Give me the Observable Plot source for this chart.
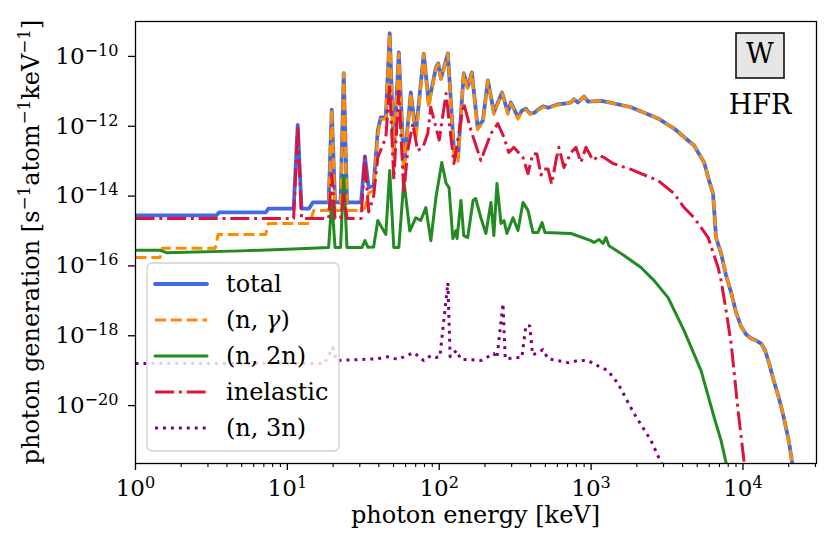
<!DOCTYPE html>
<html><head><meta charset="utf-8">
<script src="https://cdn.jsdelivr.net/npm/d3@7"></script>
<script src="https://cdn.jsdelivr.net/npm/@observablehq/plot@0.6"></script>
<style>body{margin:0;background:#fff}#chart{width:831px;height:549px}</style>
</head><body><div id="chart"></div>
<script>
// photon energy [keV], photon generation [s^-1 atom^-1 keV^-1]
const total = [[1,2.8e-15],[3.4,2.8e-15],[3.55,3.4e-15],[7.2,3.4e-15],[7.5,4.4e-15],[11.0,4.4e-15],[11.7,1.1e-12],[12.4,4.4e-15],[13.9,4.4e-15],[14.7,6.6e-15],[18.7,6.6e-15],[19.6,3.0e-12],[20.6,6.6e-15],[22.4,6.6e-15],[23.5,3.3e-11],[24.7,6.6e-15],[30.6,6.6e-15],[32.4,1.36e-13],[34.3,1.8e-14],[37.0,2.0e-14],[39.4,7.5e-13],[41.2,1.8e-12],[44.5,1.8e-12],[47.2,4.6e-10],[50.2,1.65e-13],[54.2,1.3e-10],[58.5,6.5e-14],[65,9.3e-12],[70.1,6e-13],[79.1,1.2e-10],[85.3,4.5e-12],[95.1,4.8e-11],[98.5,6.3e-11],[102.6,2.34e-11],[114,1.22e-10],[125,2e-13],[133,1.28e-13],[145,3.3e-11],[154,1.3e-11],[164,3.5e-11],[179,9.2e-13],[194,1.47e-12],[209,2.05e-11],[229,2.5e-12],[259,9.3e-12],[283,2.5e-12],[296,4.8e-12],[310,3.2e-12],[330,1.8e-12],[350,2.8e-12],[372,3.2e-12],[395,2.3e-12],[421,2.4e-12],[450,3.0e-12],[482,3.7e-12],[520,3.4e-12],[600,4.2e-12],[704,4.6e-12],[738,4.8e-12],[771,5.9e-12],[820,4.8e-12],[898,7.1e-12],[954,5.1e-12],[1161,5.3e-12],[1292,4.9e-12],[1832,3.5e-12],[2761,1.67e-12],[3520,8.6e-13],[4355,3.9e-13],[4770,2.8e-13],[5070,1.77e-13],[5550,9.2e-14],[5980,2.8e-14],[6350,1.19e-14],[6650,6.5e-16],[7180,2.26e-16],[7745,5.3e-17],[8360,1.73e-17],[9020,4.6e-18],[9730,1.84e-18],[10500,1.08e-18],[11330,8.3e-19],[12220,7.3e-19],[13180,6.0e-19],[14000,3.8e-19],[14890,1.6e-19],[15810,5.9e-20],[17060,1.94e-20],[18120,7.2e-21],[19260,2.2e-21],[20180,8.1e-22],[21090,2.3e-22],[21600,8e-23]];

const ngamma = [[1,1.74e-16],[1.45,1.74e-16],[1.5,3.2e-16],[3.35,3.2e-16],[3.5,7.9e-16],[7.2,7.9e-16],[7.5,1.64e-15],[14.0,1.64e-15],[14.9,3.9e-15],[18.7,3.9e-15],[19.6,3.0e-12],[20.6,3.9e-15],[22.4,3.9e-15],[23.5,3.3e-11],[24.7,3.9e-15],[30.6,3.9e-15],[32.4,4.5e-15],[34.3,1.2e-14],[37.0,1.5e-14],[39.4,6e-13],[41.2,1.6e-12],[44.5,1.6e-12],[47.2,4.5e-10],[50.2,1.2e-13],[54.2,1.2e-10],[58.5,5e-14],[65,9e-12],[70.1,4e-13],[79.1,1.2e-10],[85.3,3.5e-12],[95.1,4.6e-11],[98.5,6e-11],[102.6,2.2e-11],[114,1.2e-10],[125,1.5e-13],[133,1.0e-13],[145,3.2e-11],[154,1.2e-11],[164,3.4e-11],[179,8e-13],[194,1.3e-12],[209,2e-11],[229,2.2e-12],[259,9e-12],[283,2.2e-12],[296,4.5e-12],[310,3.0e-12],[330,1.6e-12],[350,2.6e-12],[372,3.0e-12],[395,2.2e-12],[421,2.3e-12],[450,2.9e-12],[482,3.6e-12],[520,3.3e-12],[600,4.1e-12],[704,4.6e-12],[738,4.8e-12],[771,5.9e-12],[820,4.8e-12],[898,7.1e-12],[954,5.1e-12],[1161,5.3e-12],[1292,4.9e-12],[1832,3.5e-12],[2761,1.67e-12],[3520,8.6e-13],[4355,3.9e-13],[4770,2.8e-13],[5070,1.77e-13],[5550,9.2e-14],[5980,2.8e-14],[6350,1.19e-14],[6650,6.5e-16],[7180,2.26e-16],[7745,5.3e-17],[8360,1.73e-17],[9020,4.6e-18],[9730,1.84e-18],[10500,1.08e-18],[11330,8.3e-19],[12220,7.3e-19],[13180,6.0e-19],[14000,3.8e-19],[14890,1.6e-19],[15810,5.9e-20],[17060,1.94e-20],[18120,7.2e-21],[19260,2.2e-21],[20180,8.1e-22],[21090,2.3e-22],[21600,8e-23]];

const n2n = [[1,2.8e-16],[1.45,2.8e-16],[1.6,2.4e-16],[5,2.7e-16],[10,3.0e-16],[18.7,3.4e-16],[19.6,7.5e-15],[20.6,3.4e-16],[22.4,3.4e-16],[23.5,3.9e-14],[24.7,3.4e-16],[31,3.4e-16],[32.4,5.3e-16],[34,3.4e-16],[37,3.5e-16],[39.4,2e-15],[44.5,8e-16],[47.2,5.4e-14],[50.2,3.4e-16],[54.2,3.4e-16],[58.5,2.8e-14],[64,1.0e-15],[70.1,2.4e-15],[75.6,2.0e-15],[81.6,4.7e-15],[88.1,5.3e-16],[95.1,9.1e-15],[104,9.2e-14],[111,2.3e-14],[116,1.76e-14],[123,6.1e-16],[129,1.03e-15],[131,6.1e-16],[139,7.5e-15],[145,7.4e-16],[154,6.5e-16],[167,7.5e-15],[174,8.5e-15],[188,2.4e-15],[203,8.5e-16],[219,6.6e-15],[229,7.4e-16],[240,2.3e-14],[255,1.64e-15],[267,2e-15],[279,8.5e-16],[306,2.4e-15],[330,1.03e-15],[356,6.6e-15],[384,3.9e-15],[414,9.1e-16],[447,9.1e-16],[475,1.75e-15],[497,9.1e-16],[738,8.5e-16],[998,5.3e-16],[1045,4.7e-16],[1128,5.7e-16],[1197,4.4e-16],[1253,6.5e-16],[1312,3.8e-16],[1648,2.0e-16],[2133,9e-17],[2600,3.8e-17],[3214,1.24e-17],[4095,1.4e-18],[5300,1e-19],[6460,4.6e-21],[7180,9.9e-22],[7745,2.3e-22],[7900,8e-23]];

const inelastic = [[1,2.3e-15],[11.0,2.3e-15],[11.7,1.05e-12],[12.4,2.3e-15],[18.7,2.3e-15],[19.6,4.4e-14],[20.6,2.3e-15],[22.4,2.3e-15],[23.5,1.2e-14],[24.7,2.3e-15],[30.6,2.3e-15],[32.4,1.36e-13],[34.3,3.5e-15],[37,1.0e-14],[39.4,1.28e-13],[44.5,4.8e-13],[47.2,1.5e-11],[50.2,3e-14],[54.2,1.0e-11],[58.5,1.2e-14],[62,2e-13],[67,1.2e-12],[72,2e-13],[78,2.5e-13],[84,6.2e-13],[88,3.5e-12],[100,4e-13],[111,8.7e-12],[116,1.47e-12],[125,8.6e-14],[145,4.5e-12],[162,7.6e-13],[188,1.05e-13],[219,6.2e-13],[243,1.2e-12],[267,4.8e-13],[287,1.77e-13],[310,2.5e-13],[356,1.28e-13],[384,4.4e-14],[414,1.65e-13],[440,1.6e-13],[468,4e-14],[490,6e-14],[520,6e-14],[550,2.2e-14],[587,1.05e-13],[614,2.5e-13],[662,6.6e-14],[738,1.77e-13],[795,2.5e-13],[857,9.2e-14],[925,2.5e-13],[1030,1.05e-13],[1128,1.46e-13],[1217,1.28e-13],[1394,8.6e-14],[1832,5.8e-14],[2133,4.4e-14],[2761,2.8e-14],[3520,1.19e-14],[4095,4.7e-15],[4770,2.4e-15],[5900,6.5e-16],[6860,9e-17],[7180,3.8e-17],[7745,5.3e-18],[8360,6e-19],[9290,7.2e-21],[10190,2.3e-22],[10500,5e-23]];

const n3n = [[1,1.6e-19],[17.5,1.6e-19],[19.9,4.6e-19],[21,1.95e-19],[39.4,2.2e-19],[45.8,2.5e-19],[53.3,2.1e-19],[68,3.3e-19],[79,1.95e-19],[88,2.7e-19],[95,2.4e-19],[101,2.5e-19],[114,3.3e-17],[118,2.5e-19],[130,3.8e-19],[139,2.1e-19],[154,2.1e-19],[188,1.95e-19],[229,3.1e-19],[240,2.3e-19],[263,8.4e-18],[272,2.2e-19],[350,2.4e-19],[372,1.96e-18],[395,1.9e-18],[412,2.8e-19],[482,4e-19],[520,2.2e-19],[704,1.7e-19],[820,1.95e-19],[954,1.95e-19],[1100,1.4e-19],[1292,1.0e-19],[1503,4.3e-20],[1919,5.9e-21],[2483,9.9e-22],[2890,2.3e-22],[3100,8e-23]];

const seriesNames = ["total", "(n, γ)", "(n, 2n)", "inelastic", "(n, 3n)"];
const seriesColors = ["#4169e1", "#ff8c00", "#228b22", "#dc143c", "#800080"];
const seriesData = [total, ngamma, n2n, inelastic, n3n];
const seriesWidths = [3.8, 3, 3, 3, 3];
const seriesDash = [null, "11,4.8", null, "19,4.8,3,4.8", "3,4.95"];

const xMajor = [1, 10, 100, 1000, 10000];
const xMinor = [2,3,4,5,6,7,8,9,20,30,40,50,60,70,80,90,200,300,400,500,600,700,800,900,2000,3000,4000,5000,6000,7000,8000,9000,20000,30000];
const yMajor = [1e-20, 1e-18, 1e-16, 1e-14, 1e-12, 1e-10];

const expFmt = d => "10|" + String(Math.round(Math.log10(d))).replace("-", "\u2212");

const lineMarks = seriesData.map((data, i) => Plot.line(data, {
  x: d => d[0], y: d => d[1],
  stroke: seriesColors[i], strokeWidth: seriesWidths[i],
  strokeDasharray: seriesDash[i] || undefined,
  strokeLinecap: seriesDash[i] ? "butt" : "round",
  strokeLinejoin: "round",
  clip: true
}));

const plot = Plot.plot({
  width: 831, height: 549,
  marginLeft: 135, marginRight: 15, marginTop: 21, marginBottom: 86,
  style: {fontFamily: "DejaVu Serif", background: "white", color: "black"},
  x: {type: "log", domain: [1, 30500]},
  y: {type: "log", domain: [2.2e-22, 1e-9]},
  marks: [
    ...lineMarks,
    Plot.frame({stroke: "black", strokeWidth: 1.3}),
    Plot.axisX({ticks: xMajor, tickSize: 7, tickPadding: 9, strokeWidth: 1.3, tickFormat: expFmt, label: null, fontSize: 23}),
    Plot.axisX({ticks: xMinor, tickSize: 4, strokeWidth: 1.1, tickFormat: () => "", label: null}),
    Plot.axisY({ticks: yMajor, tickSize: 7, tickPadding: 10, strokeWidth: 1.3, tickFormat: expFmt, label: null, fontSize: 23})
  ]
});

document.getElementById("chart").appendChild(plot);
const svg = d3.select(plot);

// superscript exponents in tick labels
svg.selectAll("text").each(function() {
  const t = this.textContent;
  if (!t.includes("|")) return;
  const [b, e] = t.split("|");
  const s = d3.select(this);
  s.selectAll("*").remove();
  this.textContent = "";
  s.append("tspan").text(b);
  s.append("tspan").attr("dy", -8).attr("font-size", "0.7em").text(e);
});

function mathText(sel, parts, raise) {
  let up = false;
  parts.forEach(([txt, sup]) => {
    const t = sel.append("tspan").text(txt);
    if (sup && !up) { t.attr("dy", -raise).attr("font-size", "0.7em"); up = true; }
    else if (sup) { t.attr("font-size", "0.7em"); }
    else if (up) { t.attr("dy", raise); up = false; }
  });
}

// axis labels
svg.append("text").attr("x", 475.5).attr("y", 523).attr("text-anchor", "middle")
  .attr("font-size", 24).attr("fill", "black").text("photon energy [keV]");
const yl = svg.append("text").attr("transform", "translate(39,242) rotate(-90)")
  .attr("text-anchor", "middle").attr("font-size", 24).attr("fill", "black");
mathText(yl, [["photon generation [s",0],["\u22121",1],["atom",0],["\u22121",1],["keV",0],["\u22121",1],["]",0]], 9);

// W / HFR annotation
svg.append("rect").attr("x", 736).attr("y", 33).attr("width", 48).attr("height", 45)
  .attr("fill", "#e6e6e6").attr("stroke", "black").attr("stroke-width", 1.5);
svg.append("text").attr("x", 760).attr("y", 63).attr("text-anchor", "middle")
  .attr("font-size", 27).attr("fill", "black").text("W");
svg.append("text").attr("x", 760).attr("y", 114).attr("text-anchor", "middle")
  .attr("font-size", 27).attr("fill", "black").text("HFR");

// legend
const lg = svg.append("g").attr("text-anchor", "start");
lg.append("rect").attr("x", 147).attr("y", 263).attr("width", 192).attr("height", 188).attr("rx", 5)
  .attr("fill", "white").attr("fill-opacity", 0.8).attr("stroke", "#d0d0d0").attr("stroke-width", 1.3);
seriesNames.forEach((name, i) => {
  const y = 284 + i * 36;
  lg.append("line").attr("x1", 155).attr("x2", 207).attr("y1", y).attr("y2", y)
    .attr("stroke", seriesColors[i]).attr("stroke-width", seriesWidths[i])
    .attr("stroke-dasharray", seriesDash[i]).attr("stroke-linecap", seriesDash[i] ? "butt" : "round");
  const tx = lg.append("text").attr("x", 226).attr("y", y).attr("dy", "0.35em")
    .attr("text-anchor", "start").attr("font-size", 24).attr("fill", "black");
  if (name.includes("γ")) {
    tx.append("tspan").text("(n, ");
    tx.append("tspan").attr("font-style", "italic").text("γ");
    tx.append("tspan").text(")");
  } else tx.text(name);
});
</script>
</body></html>
